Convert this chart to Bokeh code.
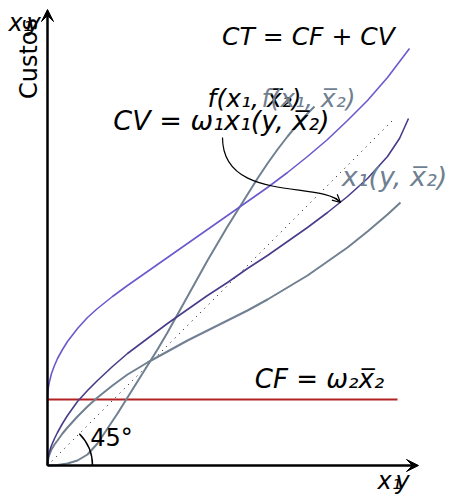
import numpy as np
from bokeh.plotting import figure
from bokeh.models import Range1d, Label, Arrow, VeeHead, OpenHead
from bokeh.embed import file_html
from bokeh.resources import INLINE

# ---- data (axis units) ----
cf_level = 0.66
cf_end = 3.50
diag_end = 3.45

cv_x = [0, .003, .01, .02, .04, .07, .10, .15, .20, .30, .40, .50, .65, .80, 1.0, 1.2, 1.4, 1.6, 1.8, 2.0,
        2.2, 2.4, 2.6, 2.8, 3.0, 3.2, 3.4, 3.52, 3.61]
cv_y = [0, .05, .10, .14, .20, .27, .33, .42, .50, .64, .75, .85, .99, 1.12, 1.27, 1.42, 1.56, 1.70, 1.83, 1.97,
        2.10, 2.24, 2.38, 2.53, 2.69, 2.87, 3.09, 3.27, 3.47]

ct_x = [0, .003, .01, .02, .04, .07, .10, .15, .20, .30, .40, .50, .65, .80, 1.0, 1.2, 1.4, 1.6, 1.8, 2.0,
        2.2, 2.4, 2.6, 2.8, 3.0, 3.2, 3.4, 3.62]
ct_y = [.66, .73, .79, .84, .92, 1.00, 1.07, 1.16, 1.24, 1.37, 1.48, 1.57, 1.69, 1.80, 1.94, 2.08, 2.22, 2.36, 2.50, 2.64,
        2.78, 2.93, 3.09, 3.26, 3.45, 3.65, 3.88, 4.17]

f_x = [0, .1, .2, .3, .4, .5, .6, .7, .8, .9, 1.0, 1.1, 1.2, 1.3, 1.4, 1.5, 1.6, 1.7, 1.8, 1.9,
       2.0, 2.1, 2.2, 2.3, 2.4, 2.5, 2.6, 2.67]
f_y = [0, .005, .02, .05, .11, .22, .37, .52, .68, .84, 1.00, 1.16, 1.33, 1.51, 1.69, 1.87, 2.05, 2.22, 2.39, 2.55,
       2.71, 2.87, 3.02, 3.16, 3.29, 3.41, 3.52, 3.59]

x1_x = [0, .003, .01, .02, .04, .07, .10, .15, .20, .30, .40, .50, .65, .80, 1.0, 1.2, 1.4, 1.6, 1.8, 2.0,
        2.2, 2.4, 2.6, 2.8, 3.0, 3.2, 3.4, 3.53]
x1_y = [0, .04, .08, .11, .16, .21, .25, .32, .38, .49, .59, .68, .80, .91, 1.03, 1.14, 1.25, 1.35, 1.45, 1.55,
        1.66, 1.78, 1.90, 2.04, 2.18, 2.34, 2.51, 2.63]

XB = "x\u0305\u2082"  # x-bar sub 2
lbl_ct = "CT = CF + CV"
lbl_f = "f(x\u2081, " + XB + ")"
lbl_cv = "CV = \u03c9\u2081x\u2081(y, " + XB + ")"
lbl_x1 = "x\u2081(y, " + XB + ")"
lbl_cf = "CF = \u03c9\u2082" + XB
lbl_angle = "45\u00b0"
lbl_ylab = "Custos"

SLATEBLUE = "#6a5acd"
DARKSLATEBLUE = "#483d8b"
SLATEGRAY = "#708090"
FIREBRICK = "#b22222"
FONT = "DejaVu Sans"

p = figure(width=450, height=494, x_range=Range1d(-0.47, 4.03), y_range=Range1d(-0.29, 4.65),
           output_backend="svg", toolbar_location=None,
           x_axis_location=None, y_axis_location=None, min_border=0)
p.grid.visible = False
p.outline_line_color = None
p.background_fill_color = "white"
p.border_fill_color = "white"

p.line([0, diag_end], [0, diag_end], line_color="black", line_width=1, line_dash="1 5")
p.line([0, cf_end], [cf_level, cf_level], line_color=FIREBRICK, line_width=2)
p.line(x1_x, x1_y, line_color=SLATEGRAY, line_width=2)
p.line(f_x, f_y, line_color=SLATEGRAY, line_width=2)
p.line(cv_x, cv_y, line_color=DARKSLATEBLUE, line_width=1.6)
p.line(ct_x, ct_y, line_color=SLATEBLUE, line_width=1.6)

# 45 degree arc
p.arc(x=0, y=0, radius=0.45, start_angle=0, end_angle=np.pi / 4, line_color="black", line_width=1.5)

# axes with arrows
p.add_layout(Arrow(end=VeeHead(size=12, fill_color="black", line_color="black"),
                   x_start=0, y_start=0, x_end=3.71, y_end=0, line_width=2.5, line_color="black"))
p.add_layout(Arrow(end=VeeHead(size=12, fill_color="black", line_color="black"),
                   x_start=0, y_start=0, x_end=0, y_end=4.56, line_width=2.5, line_color="black"))

# curved annotation arrow from CV label to CV curve
tx, ty = cv_x[24] - 0.07, cv_y[24] - 0.06
p.bezier(x0=1.75, y0=3.28, x1=tx, y1=ty, cx0=1.75, cy0=2.62, cx1=2.75, cy1=2.85,
         line_color="black", line_width=1.2)
p.add_layout(Arrow(end=OpenHead(size=8, line_width=1.2, line_color="black"),
                   x_start=tx - 0.05, y_start=ty + 0.045, x_end=tx, y_end=ty,
                   line_width=1.2, line_color="black"))

def lab(x, y, text, size, color="black", style="italic", angle=0.0):
    p.add_layout(Label(x=x, y=y, text=text, text_font=FONT, text_font_size=size,
                       text_font_style=style, text_color=color, angle=angle,
                       text_align="center", text_baseline="middle"))

lab(2.61, 4.29, lbl_ct, "25px")
lab(2.07, 3.67, lbl_f, "25px")
lab(2.61, 3.67, lbl_f, "25px", color=SLATEGRAY)
lab(1.74, 3.45, lbl_cv, "27px")
lab(3.47, 2.89, lbl_x1, "27px", color=SLATEGRAY)
lab(2.72, 0.87, lbl_cf, "26px")
lab(0.64, 0.28, lbl_angle, "24px", style="normal")
lab(-0.19, 4.07, lbl_ylab, "24px", style="normal", angle=np.pi / 2)
lab(-0.27, 4.43, "x\u2081", "24px")
lab(-0.14, 4.43, "y", "24px")
lab(3.42, -0.15, "x\u2081", "24px")
lab(3.55, -0.15, "y", "24px")

open("out.html", "w").write(file_html(p, INLINE))
